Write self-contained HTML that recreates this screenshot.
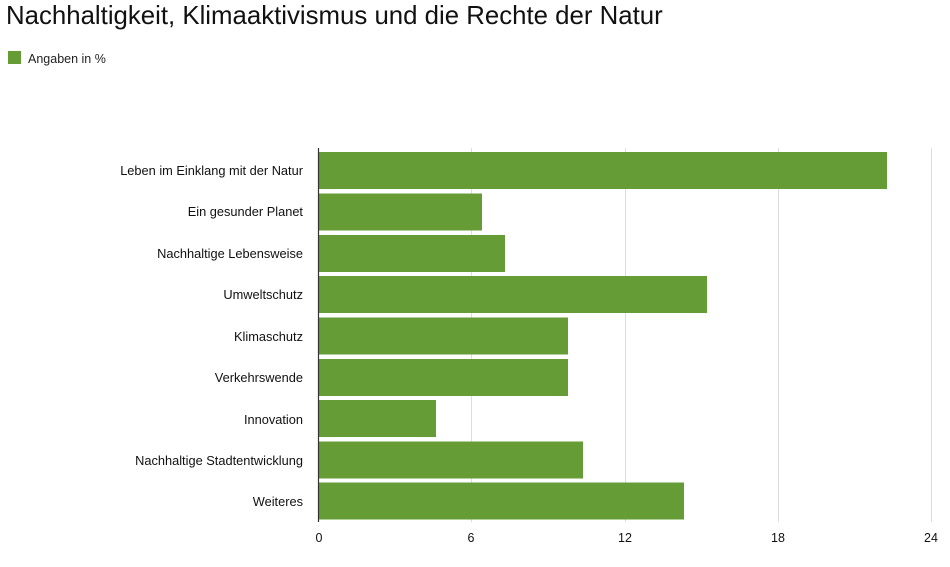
<!DOCTYPE html><html><head><style>body{margin:0;background:#fff;font-family:"Liberation Sans",sans-serif}</style></head><body>
<svg width="950" height="562" xmlns="http://www.w3.org/2000/svg" font-family="Liberation Sans, sans-serif">
<text x="6" y="24" font-size="25.8" fill="#111">Nachhaltigkeit, Klimaaktivismus und die Rechte der Natur</text>
<rect x="8" y="51" width="13" height="13" fill="#669c35"/>
<text x="28" y="63" font-size="12.5" fill="#222">Angaben in %</text>
<g stroke="#ddd" stroke-width="1">
<line x1="471.5" y1="148" x2="471.5" y2="522"/><line x1="625.5" y1="148" x2="625.5" y2="522"/><line x1="778.5" y1="148" x2="778.5" y2="522"/><line x1="931.5" y1="148" x2="931.5" y2="522"/>
</g>
<g fill="#669c35">
<rect x="319" y="152" width="568" height="37"/>
<rect x="319" y="193.5" width="163" height="37"/>
<rect x="319" y="235" width="186" height="37"/>
<rect x="319" y="276" width="388" height="37"/>
<rect x="319" y="317.5" width="249" height="37"/>
<rect x="319" y="359" width="249" height="37"/>
<rect x="319" y="400" width="117" height="37"/>
<rect x="319" y="441.5" width="264" height="37"/>
<rect x="319" y="482.5" width="365" height="37"/>
</g>
<line x1="318.5" y1="148" x2="318.5" y2="522" stroke="#333" stroke-width="1.2"/>
<g font-size="12.8" fill="#111" text-anchor="end">
<text x="303" y="175">Leben im Einklang mit der Natur</text>
<text x="303" y="216">Ein gesunder Planet</text>
<text x="303" y="258">Nachhaltige Lebensweise</text>
<text x="303" y="299">Umweltschutz</text>
<text x="303" y="341">Klimaschutz</text>
<text x="303" y="382">Verkehrswende</text>
<text x="303" y="424">Innovation</text>
<text x="303" y="465">Nachhaltige Stadtentwicklung</text>
<text x="303" y="506">Weiteres</text>
</g>
<g font-size="12.5" fill="#111" text-anchor="middle">
<text x="319" y="542">0</text><text x="471" y="542">6</text><text x="625" y="542">12</text><text x="778" y="542">18</text><text x="931" y="542">24</text>
</g>
</svg></body></html>
